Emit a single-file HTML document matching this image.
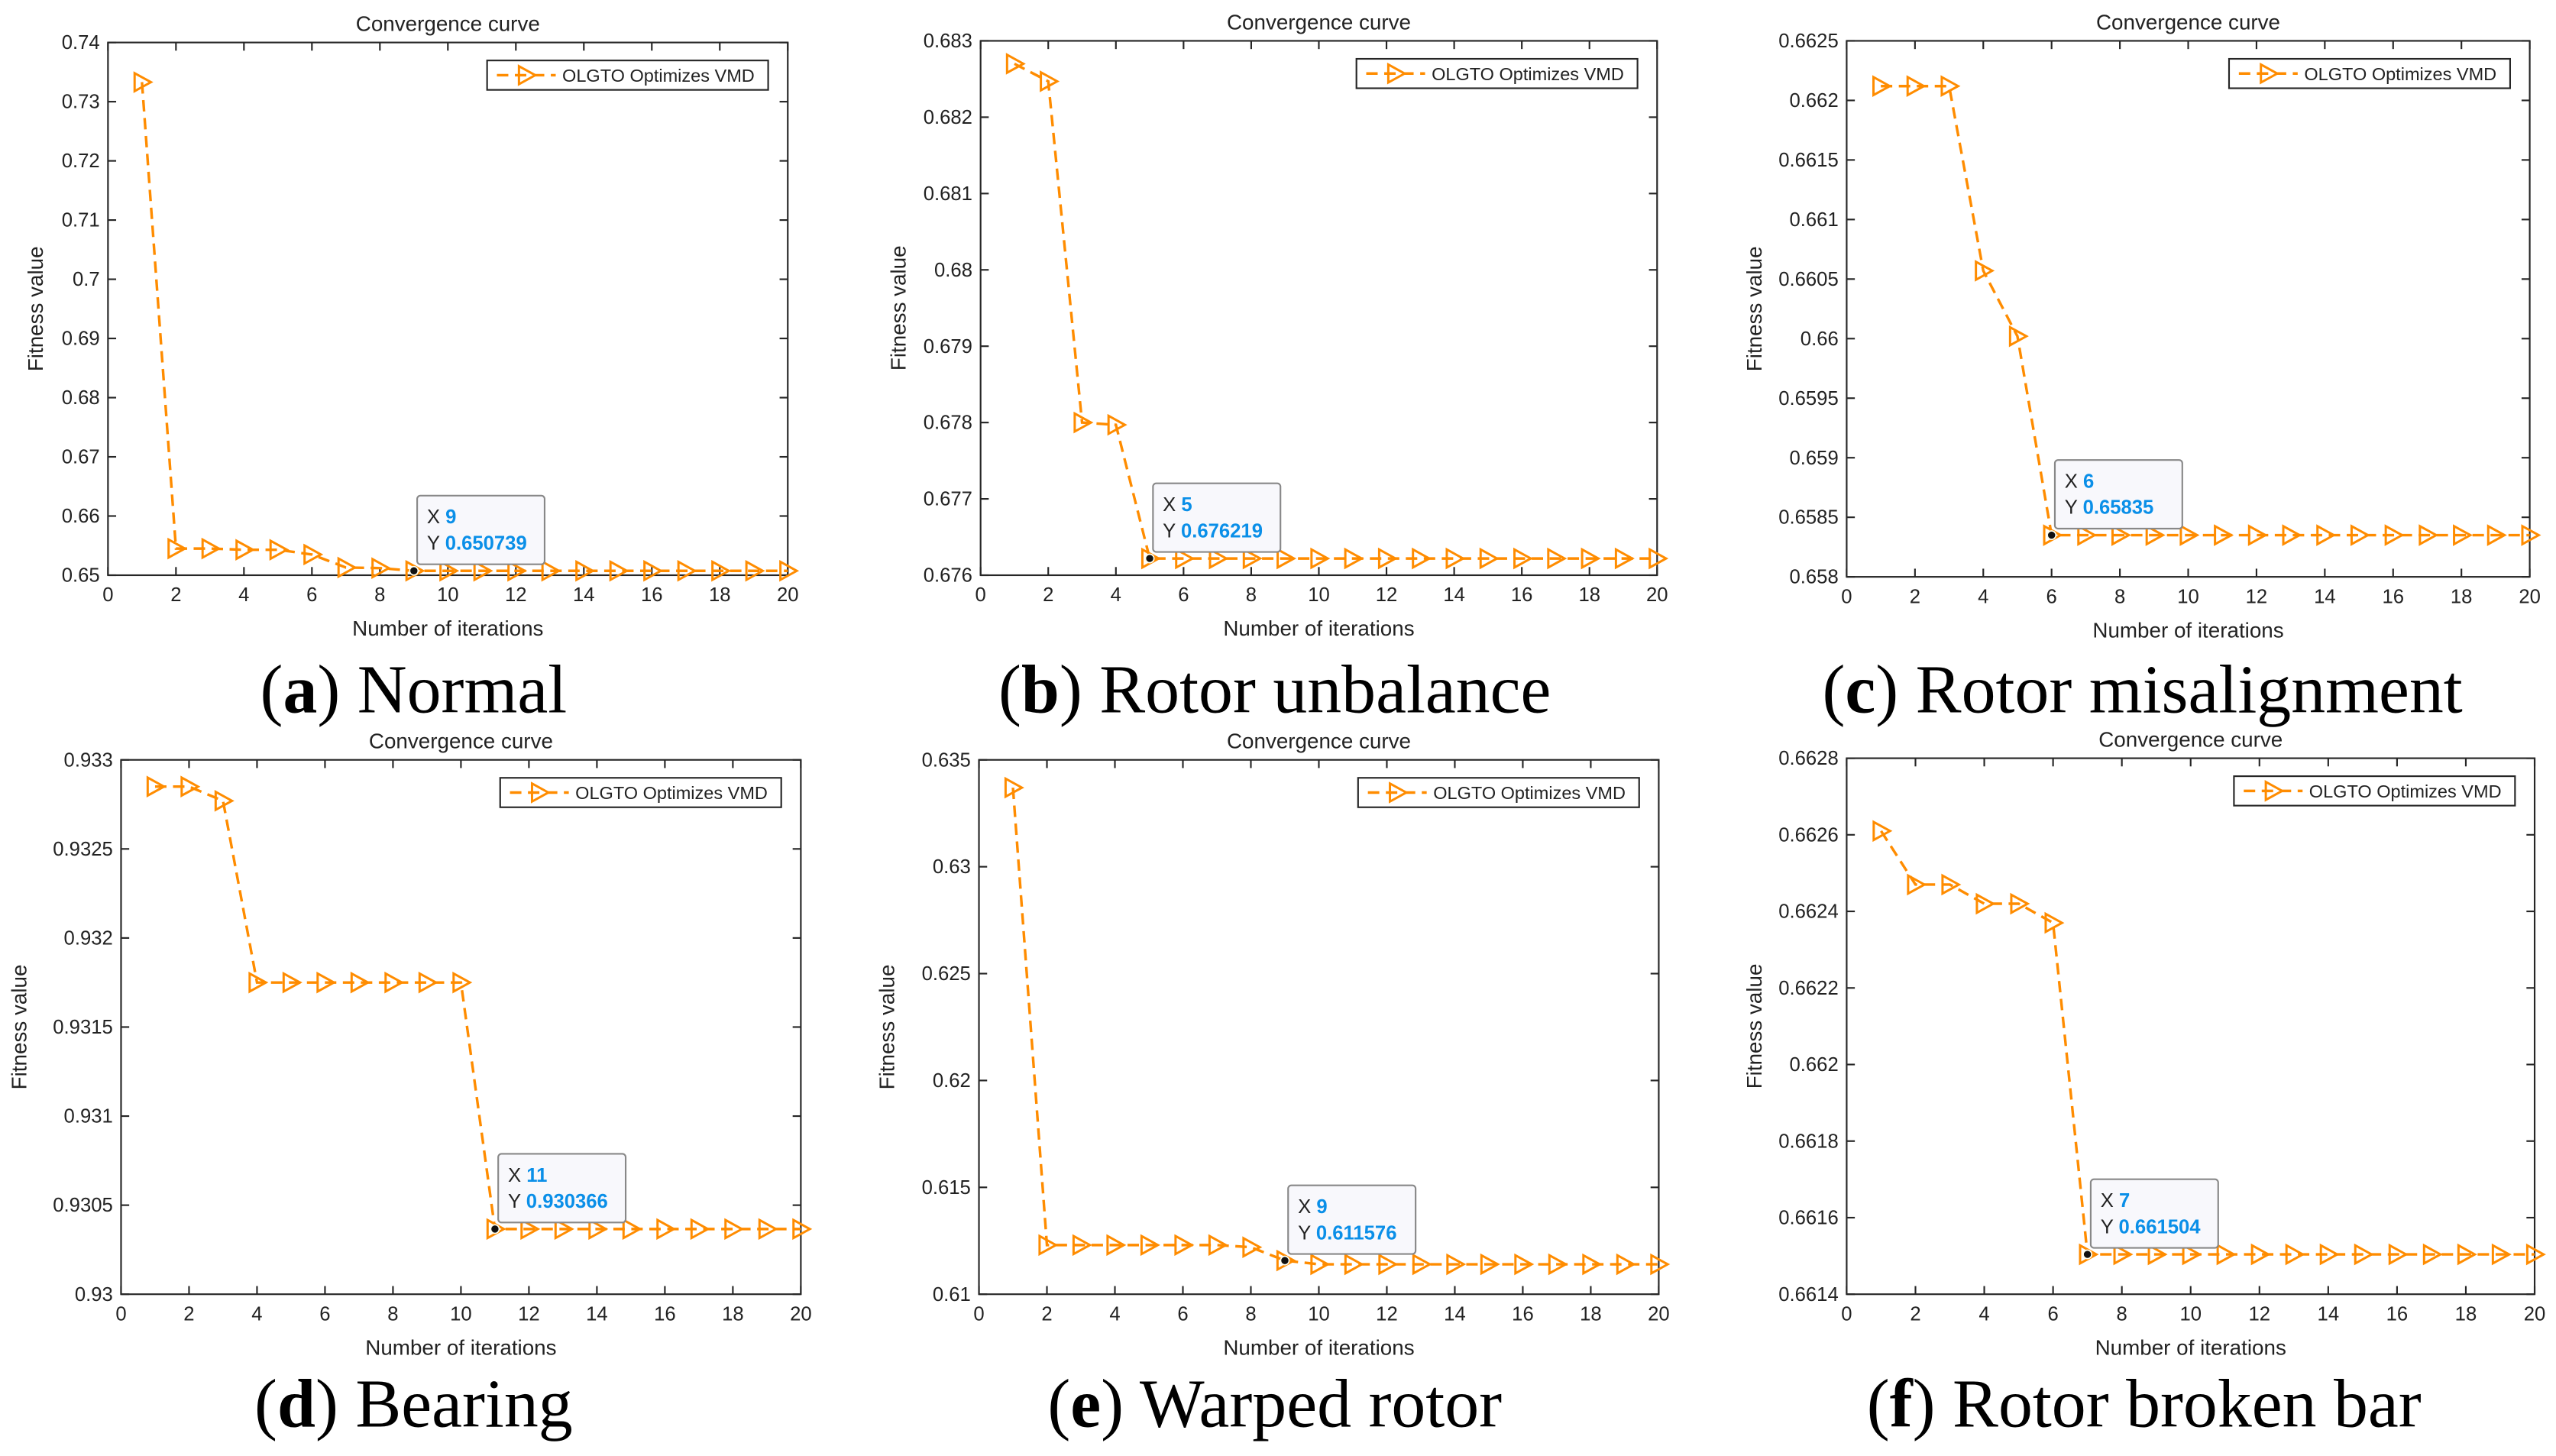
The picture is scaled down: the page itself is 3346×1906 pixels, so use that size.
<!DOCTYPE html>
<html><head><meta charset="utf-8"><style>
html,body{margin:0;padding:0;background:#fff}
svg{display:block}
text{font-family:"Liberation Sans",sans-serif;fill:#222}
.cap{font-family:"Liberation Serif",serif;fill:#000}
</style></head><body>
<svg id="chart" width="3346" height="1906" viewBox="0 0 1564 891" xmlns="http://www.w3.org/2000/svg"></svg>
<script>
const xTicks=[0,2,4,6,8,10,12,14,16,18,20];
const iterations=[1,2,3,4,5,6,7,8,9,10,11,12,13,14,15,16,17,18,19,20];
const seriesA=[0.7333,0.6545,0.6545,0.6543,0.6543,0.6535,0.6513,0.6512,0.650739,0.650739,0.650739,0.650739,0.650739,0.650739,0.650739,0.650739,0.650739,0.650739,0.650739,0.650739];
const seriesB=[0.68270,0.68247,0.67800,0.67797,0.676219,0.676219,0.676219,0.676219,0.676219,0.676219,0.676219,0.676219,0.676219,0.676219,0.676219,0.676219,0.676219,0.676219,0.676219,0.676219];
const seriesC=[0.66212,0.66212,0.66212,0.66057,0.66002,0.65835,0.65835,0.65835,0.65835,0.65835,0.65835,0.65835,0.65835,0.65835,0.65835,0.65835,0.65835,0.65835,0.65835,0.65835];
const seriesD=[0.93285,0.93285,0.93277,0.93175,0.93175,0.93175,0.93175,0.93175,0.93175,0.93175,0.930366,0.930366,0.930366,0.930366,0.930366,0.930366,0.930366,0.930366,0.930366,0.930366];
const seriesE=[0.6337,0.6123,0.6123,0.6123,0.6123,0.6123,0.6123,0.6122,0.611576,0.6114,0.6114,0.6114,0.6114,0.6114,0.6114,0.6114,0.6114,0.6114,0.6114,0.6114];
const seriesF=[0.66261,0.66247,0.66247,0.66242,0.66242,0.66237,0.661504,0.661504,0.661504,0.661504,0.661504,0.661504,0.661504,0.661504,0.661504,0.661504,0.661504,0.661504,0.661504,0.661504];
const yTicksA=["0.65","0.66","0.67","0.68","0.69","0.7","0.71","0.72","0.73","0.74"];
const yTicksB=["0.676","0.677","0.678","0.679","0.68","0.681","0.682","0.683"];
const yTicksC=["0.658","0.6585","0.659","0.6595","0.66","0.6605","0.661","0.6615","0.662","0.6625"];
const yTicksD=["0.93","0.9305","0.931","0.9315","0.932","0.9325","0.933"];
const yTicksE=["0.61","0.615","0.62","0.625","0.63","0.635"];
const yTicksF=["0.6614","0.6616","0.6618","0.662","0.6622","0.6624","0.6626","0.6628"];
const tipX=[9,5,6,11,9,7];
const tipY=["0.650739","0.676219","0.65835","0.930366","0.611576","0.661504"];
const captionsLetter=["a","b","c","d","e","f"];
const captionsText=["Normal","Rotor unbalance","Rotor misalignment","Bearing","Warped rotor","Rotor broken bar"];

const layouts=[
 {l:66,r:482,t:26,b:352,cx:253,cy:436,series:seriesA,ticks:yTicksA},
 {l:600,r:1014,t:25,b:352,cx:780,cy:436,series:seriesB,ticks:yTicksB},
 {l:1130,r:1548,t:25,b:353,cx:1311,cy:436,series:seriesC,ticks:yTicksC},
 {l:74,r:490,t:465,b:792,cx:253,cy:873,series:seriesD,ticks:yTicksD},
 {l:599,r:1015,t:465,b:792,cx:780,cy:873,series:seriesE,ticks:yTicksE},
 {l:1130,r:1551,t:464,b:792,cx:1312,cy:873,series:seriesF,ticks:yTicksF}
];
const NS="http://www.w3.org/2000/svg";
const svg=document.getElementById('chart');
function mk(tag,attrs,parent,txt){const e=document.createElementNS(NS,tag);for(const k in attrs)e.setAttribute(k,attrs[k]);if(txt!==undefined)e.textContent=txt;parent.appendChild(e);return e;}
const OR="#ff8c00";
function tri(g,x,y){return mk('path',{d:`M${x-4.5},${y-5.5}L${x+5.5},${y}L${x-4.5},${y+5.5}Z`,fill:'none',stroke:OR,'stroke-width':1.4},g);}
layouts.forEach((L,i)=>{
 const g=mk('g',{},svg);
 
 
 const ymin=parseFloat(L.ticks[0]),ymax=parseFloat(L.ticks[L.ticks.length-1]);
 const sx=v=>L.l+(v-0)/(20-0)*(L.r-L.l);
 const sy=v=>L.b-(v-ymin)/(ymax-ymin)*(L.b-L.t);
 const fr=mk('rect',{x:L.l,y:L.t,width:L.r-L.l,height:L.b-L.t,fill:'#fff',stroke:'#262626','stroke-width':1},g);
 
 
 xTicks.forEach(v=>{const x=sx(v);
  mk('line',{x1:x,y1:L.b,x2:x,y2:L.b-5,stroke:'#262626'},g);
  mk('line',{x1:x,y1:L.t,x2:x,y2:L.t+5,stroke:'#262626'},g);
  const t=mk('text',{x:x,y:L.b+16,'text-anchor':'middle','font-size':12},g,String(v));
  
  
 });
 L.ticks.forEach(s=>{const y=sy(parseFloat(s));
  mk('line',{x1:L.l,y1:y,x2:L.l+5,y2:y,stroke:'#262626'},g);
  mk('line',{x1:L.r,y1:y,x2:L.r-5,y2:y,stroke:'#262626'},g);
  const t=mk('text',{x:L.l-5,y:y+4,'text-anchor':'end','font-size':12},g,s);
  
  
 });
 const ti=mk('text',{x:(L.l+L.r)/2,y:L.t-7,'text-anchor':'middle','font-size':13},g,'Convergence curve');
 
 
 const xl=mk('text',{x:(L.l+L.r)/2,y:L.b+37,'text-anchor':'middle','font-size':13},g,'Number of iterations');
 
 
 const yc=(L.t+L.b)/2, yx=L.l-(i%3===0? (i===0?40:58):(i===1?46:52));
 const yl=mk('text',{x:yx,y:yc,'text-anchor':'middle','font-size':13,transform:`rotate(-90 ${yx} ${yc})`},g,'Fitness value');
 
 
 const pts=iterations.map((it,k)=>[sx(it),sy(L.series[k])]);
 const ln=mk('polyline',{points:pts.map(p=>p.join(',')).join(' '),fill:'none',stroke:OR,'stroke-width':1.6,'stroke-dasharray':'7,4'},g);
 
 
 pts.forEach(p=>{const m=tri(g,p[0],p[1]);
  
  });
 const lg=mk('g',{},g);
 
 
 const lx=L.r-184, ly=L.t+11;
 mk('rect',{x:lx,y:ly,width:172,height:18,fill:'#fff',stroke:'#262626','stroke-width':1},lg);
 mk('line',{x1:lx+6,y1:ly+9,x2:lx+42,y2:ly+9,stroke:OR,'stroke-width':1.6,'stroke-dasharray':'7,4'},lg);
 tri(lg,lx+24,ly+9);
 mk('text',{x:lx+46,y:ly+13,'font-size':11},lg,'OLGTO Optimizes VMD');
 const k=iterations.indexOf(tipX[i]);
 const px=pts[k][0],py=pts[k][1];
 const dt=mk('g',{},g);
 
 
 mk('rect',{x:px+2,y:py-46,width:78,height:42,rx:2,fill:'#f8f8fc',stroke:'#888','stroke-width':1},dt);
 mk('circle',{cx:px,cy:py,r:2.6,fill:'#111',stroke:'#ffe',"stroke-width":0.8},dt);
 const t1=mk('text',{x:px+8,y:py-29,'font-size':12},dt);
 t1.innerHTML='X <tspan font-weight="bold" style="fill:#0a8fe8">'+tipX[i]+'</tspan>';
 const t2=mk('text',{x:px+8,y:py-13,'font-size':12},dt);
 t2.innerHTML='Y <tspan font-weight="bold" style="fill:#0a8fe8">'+tipY[i]+'</tspan>';
 const c=mk('text',{x:L.cx,y:L.cy,'text-anchor':'middle','font-size':42,class:'cap'},svg);
 c.innerHTML='(<tspan font-weight="bold">'+captionsLetter[i]+'</tspan>) '+captionsText[i];
 
 
});
</script>
</body></html>
